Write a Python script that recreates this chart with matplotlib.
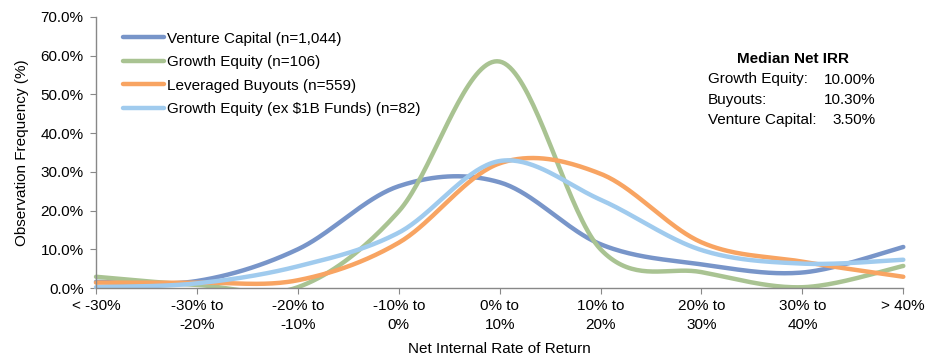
import numpy as np
import matplotlib
matplotlib.use("Agg")
import matplotlib.pyplot as plt
from matplotlib.ticker import FuncFormatter
from matplotlib.patches import Rectangle

plt.rcParams['font.family'] = ['Liberation Sans', 'DejaVu Sans']

categories = ["< -30%", "-30% to\n-20%", "-20% to\n-10%", "-10% to\n0%", "0% to\n10%",
              "10% to\n20%", "20% to\n30%", "30% to\n40%", "> 40%"]
venture_capital = [1.6, 1.8, 10.0, 26.3, 27.3, 11.3, 6.1, 4.0, 10.6]
growth_equity = [2.9, 0.8, 0.2, 19.8, 58.5, 10.0, 4.1, 0.2, 5.7]
leveraged_buyouts = [1.4, 1.4, 2.0, 11.7, 32.2, 29.5, 11.8, 6.8, 2.9]
growth_equity_ex1b = [0.2, 1.2, 5.6, 14.3, 32.8, 22.8, 9.8, 6.3, 7.3]

series = [
    ("Venture Capital (n=1,044)", venture_capital, "#7895C9"),
    ("Growth Equity (n=106)", growth_equity, "#A9C392"),
    ("Leveraged Buyouts (n=559)", leveraged_buyouts, "#F8A462"),
    ("Growth Equity (ex $1B Funds) (n=82)", growth_equity_ex1b, "#A0CBEE"),
]

median_labels = ["Growth Equity:", "Buyouts:", "Venture Capital:"]
median_values = ["10.00%", "10.30%", "3.50%"]

FS = 11


def smooth(xs, ys, n=40):
    """Excel-style smoothed line (Catmull-Rom Bezier through the points)."""
    p = np.column_stack([xs, ys]).astype(float)
    out = []
    for i in range(len(p) - 1):
        p0 = p[i - 1] if i > 0 else p[i]
        p1 = p[i]
        p2 = p[i + 1]
        p3 = p[i + 2] if i + 2 < len(p) else p[i + 1]
        c1 = p1 + (p2 - p0) / 6.0
        c2 = p2 - (p3 - p1) / 6.0
        t = np.linspace(0, 1, n)[:, None]
        seg = ((1 - t) ** 3) * p1 + 3 * ((1 - t) ** 2) * t * c1 + 3 * (1 - t) * t ** 2 * c2 + t ** 3 * p2
        out.append(seg if i == 0 else seg[1:])
    out = np.vstack(out)
    return out[:, 0], out[:, 1]


fig = plt.figure(figsize=(9.32, 3.62), dpi=100)
ax = fig.add_axes([96 / 932, 1 - 288 / 362, (903.3 - 96) / 932, (288 - 17) / 362])

clip = Rectangle((-0.02, -0.005), 1.04, 1.1, transform=ax.transAxes, facecolor="none", edgecolor="none")
ax.add_patch(clip)

x = np.arange(len(categories))
for label, vals, color in series:
    sx, sy = smooth(x, vals)
    ln, = ax.plot(sx, sy, color=color, lw=3.2, label=label, solid_capstyle='round')
    ln.set_clip_path(clip)

ax.set_xlim(0, len(categories) - 1)
ax.set_ylim(0, 70)
ax.set_yticks(np.arange(0, 71, 10))
ax.yaxis.set_major_formatter(FuncFormatter(lambda v, p: f"{v:.1f}%"))
ax.set_xticks(x)
ax.set_xticklabels(categories, linespacing=1.45)

for s in ["top", "right"]:
    ax.spines[s].set_visible(False)
for s in ["left", "bottom"]:
    ax.spines[s].set_color("#888888")
    ax.spines[s].set_linewidth(1.0)
    ax.spines[s].set_zorder(5)
ax.tick_params(axis='both', colors="#888888", labelcolor="black", labelsize=FS, length=4)
ax.tick_params(axis='x', pad=4)
ax.tick_params(axis='y', pad=5)

ax.set_xlabel("Net Internal Rate of Return", fontsize=FS, labelpad=7)
ax.set_ylabel("Observation Frequency (%)", fontsize=FS, labelpad=8)

leg = ax.legend(loc="upper left", bbox_to_anchor=(0.02, 0.985), frameon=False, fontsize=FS,
                handlelength=2.7, handletextpad=0.2, labelspacing=0.62, borderaxespad=0.3)

# Median Net IRR box
fig.text(793 / 932, 1 - 59 / 362, "Median Net IRR", ha="center", va="center",
         fontsize=FS, fontweight="bold")
for i, (lab, val) in enumerate(zip(median_labels, median_values)):
    yy = 1 - (79.5 + 20.3 * i) / 362
    fig.text(708 / 932, yy, lab, ha="left", va="center", fontsize=FS)
    fig.text(875.5 / 932, yy, val, ha="right", va="center", fontsize=FS)

fig.savefig("out.png", dpi=100)
